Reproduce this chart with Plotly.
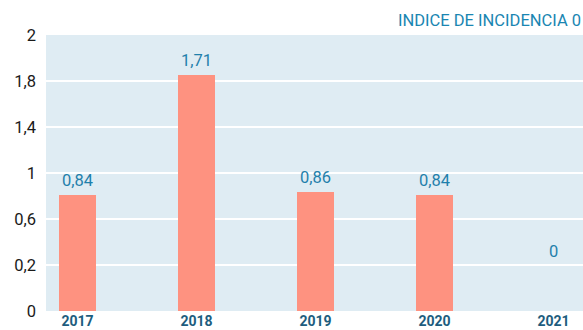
import plotly.graph_objects as go

# Incidence index per year
years = ["2017", "2018", "2019", "2020", "2021"]
values = [0.84, 1.71, 0.86, 0.84, 0.0]
value_labels = ["0,84", "1,71", "0,86", "0,84", "0"]

# Y axis ticks: evenly spaced grid with the published labels
tick_pos = [0, 1 / 3, 2 / 3, 1, 4 / 3, 5 / 3, 2]
tick_text = ["0", "0,2", "0,6", "1", "1,4", "1,8", "2"]

title_text = "INDICE DE INCIDENCIA 0"

BAR = "#fe9280"
LABEL = "#1f80ab"
XLAB = "#1d5d7e"
PLOT_BG = "#dfecf3"
FONT = "Roboto"

x_idx = list(range(len(years)))

fig = go.Figure()
fig.add_trace(go.Bar(
    x=x_idx,
    y=values,
    width=0.31,
    marker=dict(color=BAR, line=dict(width=0)),
    hoverinfo="skip",
))

for i, (v, t) in enumerate(zip(values, value_labels)):
    fig.add_annotation(
        x=i, y=v, text=t, showarrow=False,
        xanchor="center", yanchor="bottom",
        yshift=3 if v > 0 else 48,
        font=dict(family=FONT, size=16.5, color=LABEL),
    )

fig.add_annotation(
    xref="paper", yref="paper", x=1.0, y=1.0,
    xanchor="right", yanchor="bottom", yshift=3,
    text=title_text, showarrow=False,
    font=dict(family=FONT, size=16.5, color="#1a86b2"),
)

fig.update_layout(
    width=583, height=330,
    margin=dict(l=46, r=0, t=35, b=19),
    paper_bgcolor="white",
    plot_bgcolor=PLOT_BG,
    showlegend=False,
    bargap=0,
    font=dict(family=FONT),
)
fig.update_xaxes(
    range=[-0.265, 4.248],
    tickmode="array", tickvals=x_idx, ticktext=years,
    tickfont=dict(family=FONT, size=14, color=XLAB, weight="bold"),
    showgrid=False, zeroline=False, showline=False, ticks="",
    ticklabelstandoff=0,
)
fig.update_yaxes(
    range=[0, 2],
    tickmode="array", tickvals=tick_pos, ticktext=tick_text,
    tickfont=dict(family=FONT, size=16.5, color="#1a1a1a"),
    showgrid=True, gridcolor="white", gridwidth=1.5,
    zeroline=False, showline=False, ticks="",
    ticklabelstandoff=9,
)

fig.write_html("out.html")
